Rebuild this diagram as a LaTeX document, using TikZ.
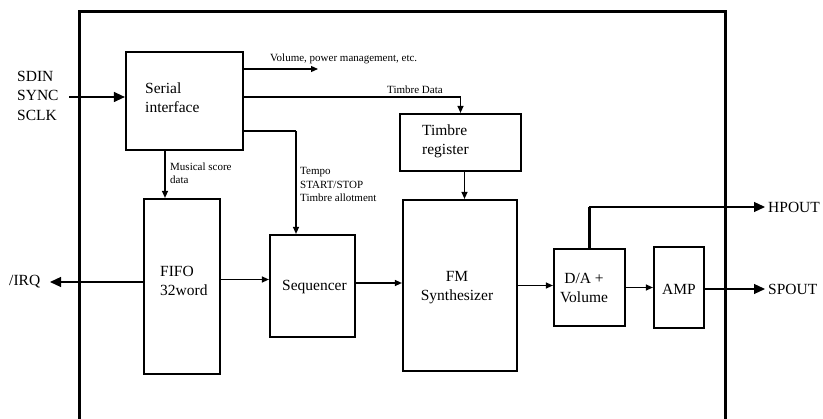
\documentclass[tikz,border=0pt]{standalone}
\usepackage{fontspec}
\setmainfont{Liberation Serif}
\usetikzlibrary{arrows.meta}
\begin{document}
\begin{tikzpicture}[x=1pt,y=-1pt,
  blk/.style={draw,line width=2.2pt,inner sep=0pt},
  big/.style={font=\fontsize{15.5}{19}\selectfont,inner sep=0pt},
  small/.style={font=\fontsize{11}{13.5}\selectfont,inner sep=0pt},
  arr/.style={line width=1.2pt,-{Triangle[length=7pt,width=6pt]}},
  oarr/.style={line width=1.2pt,-{Triangle[length=11pt,width=10pt]}},
  thickline/.style={line width=2.6pt}]
\useasboundingbox (0,0) rectangle (823,419);
\clip (0,0) rectangle (823,419);
% frame
\draw[line width=3pt] (79,430) -- (79,12) -- (725,12) -- (725,430);
% blocks
\node[blk,minimum width=117pt,minimum height=98pt] (serial) at (184.5,101) {};
\node[blk,minimum width=121pt,minimum height=57pt] (treg) at (460.5,142.5) {};
\node[blk,minimum width=76pt,minimum height=175pt] (fifo) at (182,286.5) {};
\node[blk,minimum width=85pt,minimum height=102pt] (seq) at (312.5,286) {};
\node[blk,minimum width=114pt,minimum height=171pt] (fm) at (460,285.5) {};
\node[blk,minimum width=71pt,minimum height=77pt] (da) at (589.5,287.5) {};
\node[blk,minimum width=50pt,minimum height=81pt] (amp) at (679,287.5) {};
% block texts
\node[big,align=left,anchor=west] (serialt) at (145,98) {Serial\\interface};
\node[big,align=left,anchor=west] (tregt) at (422,141.5) {Timbre\\register};
\node[big,align=left,anchor=west] (fifot) at (160,280.5) {FIFO\\32word};
\node[big] (seqt) at (314.5,287) {Sequencer};
\node[big,align=center] (fmt) at (457,287.5) {FM\\Synthesizer};
\node[big,align=center] (dat) at (584,288) {D/A +\\Volume};
\node[big] (ampt) at (679,289) {AMP};
% external labels
\node[big,align=left,anchor=west,font=\fontsize{15.5}{19.5}\selectfont] (inl) at (17,95.5) {SDIN\\SYNC\\SCLK};
\node[big,anchor=west] (irql) at (9,282) {/IRQ};
\node[big,anchor=west] (hpl) at (768,207) {HPOUT};
\node[big,anchor=west] (spl) at (768,289) {SPOUT};
% small labels
\node[small,anchor=west] (voll) at (270,59) {Volume, power management, etc.};
\node[small,anchor=west] (tdl) at (387,89.5) {Timbre Data};
\node[small,align=left,anchor=west] (msl) at (170,173) {Musical score\\data};
\node[small,align=left,anchor=west] (tpl) at (300,184.5) {Tempo\\START/STOP\\Timbre allotment};
% coordinates
\coordinate (inx) at (69,97);
\coordinate (volx) at (318,69);
\coordinate (tcor) at (296,131);
\coordinate (msx) at (165,0);
\coordinate (irqx) at (50,282);
\coordinate (hp) at (765,207);
\coordinate (sp) at (765,289);
% connectors
\draw[oarr] (inx) -- (inx -| serial.west);
\draw[arr] (serial.east |- volx) -- (volx);
\draw[arr] ([yshift=4pt]serial.east) -| (treg.north);
\draw[thickline] (serial.east |- tcor) -- (tcor);
\draw[arr] (tcor) -- (tcor |- seq.north);
\draw[arr] (serial.south -| msx) -- (fifo.north -| msx);
\draw[oarr] (fifo.west |- irqx) -- (irqx);
\draw[arr] ([yshift=7pt]fifo.east) -- ([yshift=7pt]fifo.east -| seq.west);
\draw[arr] ([yshift=3pt]seq.east) -- ([yshift=3pt]seq.east -| fm.west);
\draw[arr] ([xshift=4pt]treg.south) -- ([xshift=4pt]treg.south |- fm.north);
\draw[arr] (fm.east) -- (fm.east -| da.west);
\draw[arr] (da.east) -- (da.east -| amp.west);
\draw[oarr] (amp.east |- sp) -- (sp);
\draw[thickline] (da.north) -- (da.north |- hp);
\draw[oarr] ([xshift=-0.6pt]da.north |- hp) -- (hp);
\end{tikzpicture}
\end{document}
